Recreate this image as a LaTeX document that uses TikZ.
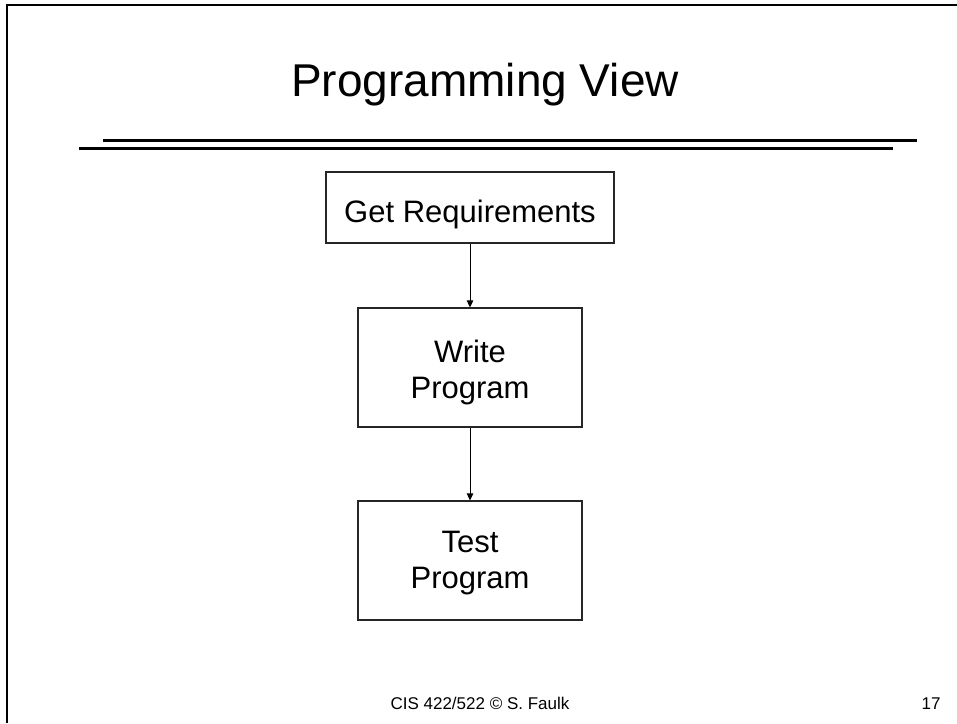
\documentclass[tikz,border=0pt]{standalone}
\usepackage{fontspec}
\setmainfont{Liberation Sans}
\usetikzlibrary{arrows.meta}
\begin{document}
\begin{tikzpicture}[x=1pt,y=-1pt,
  stepbox/.style={draw=black!85, line width=1.2pt, rectangle, inner sep=0pt},
  flow/.style={line width=1pt, -{Triangle[length=7pt,width=6.5pt]}},
  boxtext/.style={font=\fontsize{31}{36}\selectfont, anchor=base, align=center},
  rulestyle/.style={line width=2.5pt}]
\useasboundingbox (0,0) rectangle (957,723);

% slide frame
\draw[line width=2pt] (7,723) -- (7,5) -- (957,5);

% title and the double rule under it
\node[font=\fontsize{46}{52}\selectfont, anchor=base] (title) at (485,96) {Programming View};
\draw[rulestyle] (103,140.3) -- (917,140.3);
\draw[rulestyle] (79,148.3) -- (893,148.3);

% process boxes
\node[stepbox, minimum width=288pt, minimum height=71pt] (req) at (470,207.5) {};
\node[stepbox, minimum width=224pt, minimum height=119pt] (write) at (470,367.5) {};
\node[stepbox, minimum width=224pt, minimum height=119pt] (test) at (470,560.5) {};

% labels: the base anchor of a two-line label sits on its last line
\node[boxtext] (reqlabel) at (470,222) {Get Requirements};
\node[boxtext] (writelabel) at (470,398) {Write\\Program};
\node[boxtext] (testlabel) at (470,588) {Test\\Program};

% flow
\draw[flow] (req) -- (write);
\draw[flow] (write) -- (test);

% footer
\node[font=\fontsize{17}{20}\selectfont, anchor=base] (footer) at (480,709) {CIS 422/522 \textcopyright{} S. Faulk};
\node[font=\fontsize{17}{20}\selectfont, anchor=base east] (pagenum) at (944,709) {17};
\end{tikzpicture}
\end{document}
